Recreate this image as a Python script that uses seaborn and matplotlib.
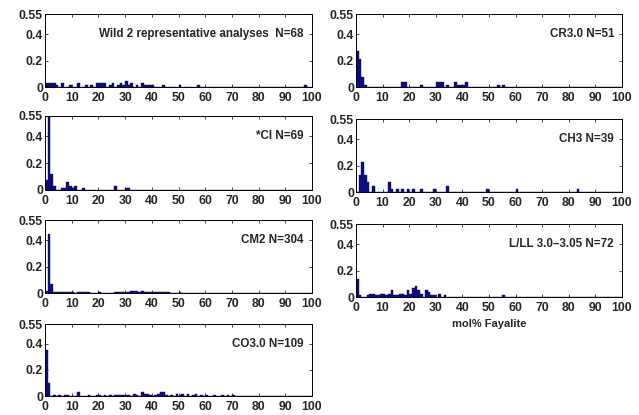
import numpy as np
import pandas as pd
import matplotlib
matplotlib.use("Agg")
import matplotlib.pyplot as plt
import seaborn as sns

# ==================== data (fraction of analyses per 1 mol% Fa bin) ====================
wild2_mol = [0, 1, 2, 3, 4, 6, 9, 12, 15, 17, 19, 20, 21, 22, 24, 25, 27, 28, 29, 30,
             31, 32, 34, 36, 37, 38, 39, 40, 44, 50, 57, 97]
wild2_frac = [0.029, 0.029, 0.029, 0.029, 0.015, 0.029, 0.015, 0.029, 0.015, 0.015, 0.029,
              0.029, 0.029, 0.029, 0.015, 0.029, 0.015, 0.029, 0.015, 0.044, 0.015, 0.029,
              0.015, 0.029, 0.015, 0.015, 0.015, 0.015, 0.015, 0.015, 0.015, 0.015]

cr_mol = [0, 1, 2, 3, 17, 18, 24, 30, 31, 32, 34, 37, 38, 39, 40, 41, 53, 55]
cr_frac = [0.275, 0.216, 0.078, 0.020, 0.039, 0.039, 0.020, 0.039, 0.039, 0.039, 0.020,
           0.039, 0.020, 0.020, 0.020, 0.039, 0.020, 0.020]

ci_mol = [0, 1, 2, 3, 6, 7, 8, 9, 10, 11, 14, 26, 30, 31]
ci_frac = [0.072, 0.551, 0.116, 0.029, 0.014, 0.014, 0.058, 0.029, 0.014, 0.029, 0.014,
           0.029, 0.014, 0.014]

ch_mol = [1, 2, 3, 4, 6, 12, 13, 15, 17, 19, 21, 24, 29, 34, 49, 60, 83]
ch_frac = [0.128, 0.231, 0.128, 0.077, 0.051, 0.077, 0.026, 0.026, 0.026, 0.026, 0.026,
           0.026, 0.026, 0.051, 0.026, 0.026, 0.026]

cm2_mol = [0, 1, 2, 3, 4, 5, 6, 7, 8, 9, 10, 11, 12, 13, 14, 15, 16, 17, 19, 20, 21, 23,
           24, 25, 26, 27, 28, 29, 30, 31, 32, 33, 34, 35, 36, 37, 38, 39, 40, 41, 42, 43,
           44, 45, 46, 47, 48, 50, 51, 52, 54, 56, 60, 66, 70, 75]
cm2_frac = [0.020, 0.447, 0.069, 0.013, 0.010, 0.010, 0.007, 0.010, 0.010, 0.007, 0.010,
            0.003, 0.007, 0.007, 0.013, 0.013, 0.007, 0.003, 0.003, 0.007, 0.003, 0.003,
            0.003, 0.003, 0.007, 0.010, 0.010, 0.007, 0.013, 0.013, 0.016, 0.016, 0.016,
            0.013, 0.016, 0.013, 0.010, 0.007, 0.010, 0.010, 0.007, 0.010, 0.007, 0.007,
            0.010, 0.003, 0.003, 0.007, 0.003, 0.003, 0.003, 0.003, 0.003, 0.003, 0.003,
            0.003]

ll_mol = [0, 1, 4, 5, 6, 7, 8, 9, 10, 11, 12, 13, 14, 15, 16, 17, 18, 19, 20, 21, 22, 23,
          24, 26, 27, 28, 29, 31, 33, 55]
ll_frac = [0.139, 0.014, 0.014, 0.028, 0.028, 0.014, 0.014, 0.028, 0.028, 0.014, 0.028,
           0.056, 0.014, 0.014, 0.028, 0.028, 0.014, 0.056, 0.028, 0.069, 0.083, 0.056,
           0.028, 0.056, 0.042, 0.014, 0.014, 0.028, 0.014, 0.014]

co_mol = [0, 1, 3, 5, 7, 8, 12, 16, 19, 20, 22, 24, 26, 27, 28, 29, 30, 31, 33, 34, 36, 37,
          38, 39, 41, 42, 43, 44, 45, 47, 49, 50, 51, 53, 55, 56, 58, 60, 63, 66, 68, 70]
co_frac = [0.349, 0.101, 0.009, 0.009, 0.009, 0.009, 0.028, 0.009, 0.009, 0.009, 0.009,
           0.009, 0.009, 0.009, 0.009, 0.009, 0.009, 0.009, 0.018, 0.009, 0.028, 0.018,
           0.018, 0.009, 0.009, 0.018, 0.028, 0.028, 0.009, 0.009, 0.018, 0.009, 0.018,
           0.018, 0.009, 0.018, 0.009, 0.009, 0.009, 0.009, 0.009, 0.009]

labels = ["Wild 2 representative analyses  N=68", "CR3.0 N=51", "*CI N=69", "CH3 N=39",
          "CM2 N=304", "L/LL 3.0\u20133.05 N=72", "CO3.0 N=109"]
x_ticks = [0, 10, 20, 30, 40, 50, 60, 70, 80, 90, 100]
y_ticks = [0, 0.2, 0.4, 0.55]
y_ticklabels = ["0", "0.2", "0.4", "0.55"]

# ==================== style ====================
sns.set_style("ticks")
plt.rcParams['font.family'] = ['Liberation Sans', 'DejaVu Sans']
plt.rcParams['font.weight'] = 'bold'
plt.rcParams['xtick.direction'] = 'in'
plt.rcParams['ytick.direction'] = 'in'
BAR_COLOR = "#0c0c7e"

W, H = 639, 415
fig = plt.figure(figsize=(W / 100, H / 100), dpi=100)
fig.patch.set_facecolor("white")

# axes boxes in pixels: (left, bottom spine y, width, height)
boxes = [
    (45, 87.3, 267, 73), (356, 87.3, 266, 73),
    (45, 190, 267, 74), (356, 192.3, 266, 73),
    (45, 293.3, 267, 73), (356, 297.3, 266, 73),
    (45, 396, 267, 72),
]
panels = [
    (wild2_mol, wild2_frac), (cr_mol, cr_frac),
    (ci_mol, ci_frac), (ch_mol, ch_frac),
    (cm2_mol, cm2_frac), (ll_mol, ll_frac),
    (co_mol, co_frac),
]

for (mol, frac), label, (px, py, pw, ph) in zip(panels, labels, boxes):
    ax = fig.add_axes([px / W, 1 - py / H, pw / W, ph / H])
    df = pd.DataFrame({"mol": mol, "frac": frac})
    sns.histplot(data=df, x="mol", weights="frac", binwidth=1, binrange=(0, 101), ax=ax,
                 color=BAR_COLOR, edgecolor=BAR_COLOR, linewidth=0.3, alpha=1)
    ax.set_xlim(0, 100)
    ax.set_ylim(0, 0.55)
    ax.set_xticks(x_ticks)
    ax.set_yticks(y_ticks)
    ax.set_yticklabels(y_ticklabels)
    ax.set_xlabel("")
    ax.set_ylabel("")
    ax.tick_params(top=True, right=True, length=2.5, width=0.6, labelsize=8.8)
    ax.tick_params(axis='x', pad=3.5)
    ax.tick_params(axis='y', pad=1.5)
    for lab in ax.get_xticklabels() + ax.get_yticklabels():
        lab.set_fontweight('bold')
    for s in ax.spines.values():
        s.set_linewidth(0.7)
        s.set_color("black")
    ax.text(97, 0.4, label, ha='right', va='center', fontsize=8.4, fontweight='bold')

fig.text(489 / W, 1 - 324 / H, "mol% Fayalite", ha='center', va='center',
         fontsize=8, fontweight='bold')

plt.savefig("out.png", dpi=100)
